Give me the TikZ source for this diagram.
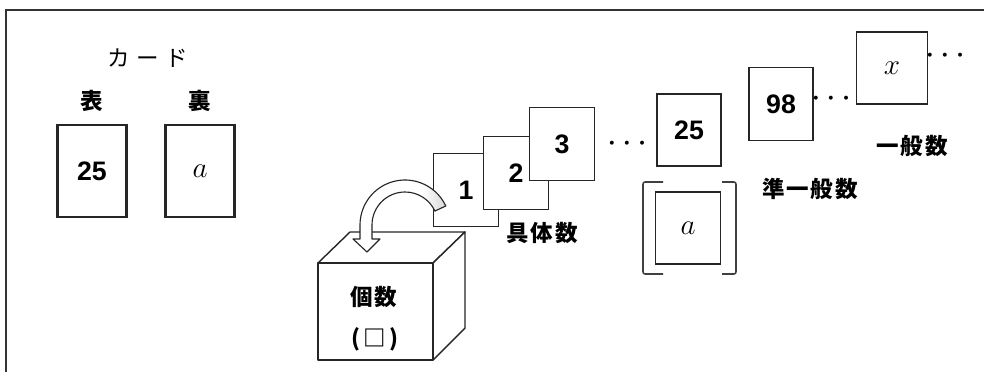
\documentclass[tikz,border=0pt]{standalone}
\usepackage{fontspec}
\newfontfamily\jpfont[LetterSpace=8]{Noto Sans CJK JP}
\newfontfamily\numfont{Liberation Sans}
\usetikzlibrary{positioning}

% tail of the curved arrow goes grey
\pgfdeclarehorizontalshading{tailshade}{100bp}{color(0bp)=(white); color(62bp)=(white); color(100bp)=(black!45)}

\tikzset{
  frame/.style={draw=black!80, line width=1.4pt},
  card/.style={draw=black!85, fill=white, line width=1.1pt, inner sep=0pt,
    minimum width=1.625cm, minimum height=1.825cm,
    font=\numfont\bfseries\fontsize{19}{19}\selectfont},
  bigcard/.style={card, line width=2.1pt, minimum width=1.725cm, minimum height=2.3cm},
  letter/.style={font=\fontsize{20}{20}\selectfont},
  word/.style={font=\jpfont\fontsize{16}{16}\selectfont, inner sep=0pt},
  bword/.style={font=\jpfont\bfseries\fontsize{16}{16}\selectfont, inner sep=0pt},
  dots/.style={font=\jpfont\bfseries\fontsize{10}{10}\selectfont, inner sep=0pt},
  cube/.style={draw=black!85, line width=1pt, fill=white, line join=round},
  bracket/.style={draw=black!75, line width=1.1pt, rounded corners=1.5pt},
}

\begin{document}
\begin{tikzpicture}[x=0.025cm, y=-0.025cm]
  \useasboundingbox (0,0) rectangle (984,372);
  \draw[frame] (6,372) -- (6,10) -- (984,10);

  % the card, both sides
  \node[word] (cardlbl) at (148,58) {\addfontfeatures{LetterSpace=30}カード};
  \node[bigcard] (front) at (92,171) {25};
  \node[bigcard, letter] (back) at (200,171) {$a$};
  \node[bword, above=0.3cm of front] (frontlbl) {表};
  \node[bword, above=0.3cm of back] (backlbl) {裏};

  % box
  \coordinate (fa) at (318,263);
  \coordinate (fb) at (433,263);
  \coordinate (fc) at (433,360);
  \coordinate (fd) at (318,360);
  \coordinate (ta) at (350,232);
  \coordinate (tb) at (465,232);
  \coordinate (rb) at (465,328);
  \draw[cube] (fa) -- (ta) -- (tb) -- (fb) -- cycle;
  \draw[cube] (fb) -- (tb) -- (rb) -- (fc) -- cycle;
  \draw[cube] (fa) rectangle (fc);
  \node[bword] (boxlbl) at (374,297) {個数};
  \node[bword] (boxsub) at (375,339) {(\,□\,)};

  % concrete numbers
  \node[card] (c1) at (466,190) {1};
  \node[card] (c2) at (516,173) {2};
  \node[card] (c3) at (562,144) {3};
  \node[bword] (concrete) at (542,233) {具体数};
  \node[dots] (dots1) at (627,145) {・・・};

  % quasi-general numbers
  \node[card, minimum width=1.6cm, minimum height=1.8cm] (c25) at (689,130) {25};
  \node[card, letter, minimum width=1.625cm, minimum height=1.8cm] (ca) at (688,228) {$a$};
  \draw[bracket] (663,182) -- (643,182) -- (643,274) -- (663,274);
  \draw[bracket] (722,182) -- (736,182) -- (736,274) -- (722,274);
  \node[card, minimum width=1.6cm] (c98) at (781,104) {98};
  \node[bword] (quasi) at (810,189) {準一般数};
  \node[dots] (dots2) at (831,100) {・・・};

  % general number
  \node[card, letter, minimum width=1.775cm, minimum height=1.8cm] (cx) at (892,68) {$x$};
  \node[dots] (dots3) at (945,57) {・・・};
  \node[bword] (general) at (912,146) {一般数};

  % curved arrow into the box
  \draw[draw=black!85, line width=0.8pt, shading=tailshade, line join=round]
    (405,225) ++(-25:45) arc[start angle=-25, end angle=-180, radius=45]
    -- (360,239) -- (353,239) -- (367,252) -- (380,239) -- (372,239) -- (372,225)
    arc[start angle=-180, end angle=-25, radius=33] -- cycle;
\end{tikzpicture}
\end{document}
